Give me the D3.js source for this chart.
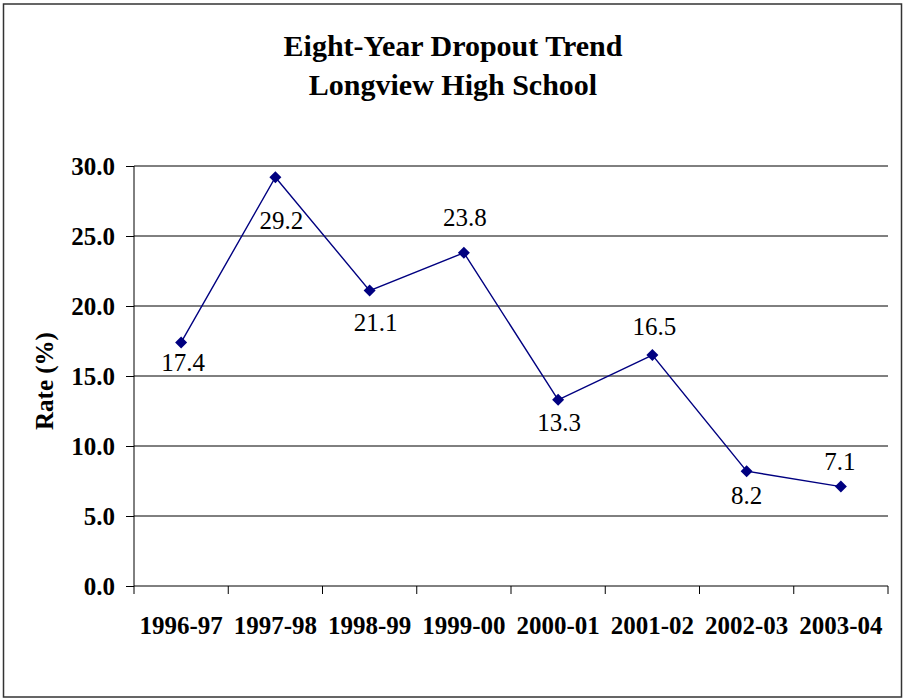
<!DOCTYPE html>
<html>
<head>
<meta charset="utf-8">
<script src="https://cdn.jsdelivr.net/npm/d3@7"></script>
<style>
  body { margin: 0; background: #fff; }
</style>
</head>
<body>
<div id="chart-area"></div>
<script>
// SVG Size
var width = 904,
    height = 700;

// chart data
var years = ["1996-97", "1997-98", "1998-99", "1999-00", "2000-01", "2001-02", "2002-03", "2003-04"];
var rates = [17.4, 29.2, 21.1, 23.8, 13.3, 16.5, 8.2, 7.1];
var yTicks = [0, 5, 10, 15, 20, 25, 30];
var titleLines = ["Eight-Year Dropout Trend", "Longview High School"];

// where each data label sits relative to its marker (px), hand placed like the original
var labelDx = [2, 6, 6, 1, 1, 2, 0, -1];
var labelDy = [29, 52, 40, -27, 31, -20, 33, -17];

var serif = "'Liberation Serif', 'Times New Roman', serif";
var plot = { left: 134, right: 888, top: 166, bottom: 586 };

var svg = d3.select("#chart-area")
  .append("svg")
  .attr("width", width)
  .attr("height", height)
  .style("font-family", serif);

// outer border
svg.append("rect")
  .attr("x", 3.5)
  .attr("y", 4)
  .attr("width", 898)
  .attr("height", 693)
  .attr("fill", "#fff")
  .attr("stroke", "#333")
  .attr("stroke-width", 1.5);

let xScale = d3.scaleBand()
  .domain(years)
  .range([plot.left, plot.right]);

let yScale = d3.scaleLinear()
  .domain([0, 30])
  .range([plot.bottom, plot.top]);

function cx(i) { return xScale(years[i]) + xScale.bandwidth() / 2; }

// gridlines
svg.append("g")
  .selectAll("line")
  .data(yTicks.filter(function(d) { return d > 0; }))
  .enter()
  .append("line")
  .attr("x1", plot.left)
  .attr("x2", plot.right)
  .attr("y1", function(d) { return yScale(d); })
  .attr("y2", function(d) { return yScale(d); })
  .attr("stroke", "#000")
  .attr("stroke-width", 1);

// y axis
let yAxis = d3.axisLeft(yScale)
  .tickValues(yTicks)
  .tickSize(8)
  .tickPadding(11)
  .tickFormat(d3.format(".1f"));

var gy = svg.append("g")
  .attr("class", "axis y-axis")
  .attr("transform", "translate(" + plot.left + ",0)")
  .call(yAxis);
gy.select(".domain").attr("stroke", "#000").attr("d", "M0," + plot.top + "V" + plot.bottom);
gy.selectAll("text")
  .style("font-family", serif)
  .attr("font-size", 25)
  .attr("font-weight", "bold")
  .attr("fill", "#000")
  .attr("dy", "0.34em");

// x axis, ticks sit at category boundaries
let xBoundary = d3.scaleLinear()
  .domain([0, years.length])
  .range([plot.left, plot.right]);

var gx = svg.append("g")
  .attr("class", "axis x-axis");
gx.append("line")
  .attr("x1", plot.left).attr("x2", plot.right)
  .attr("y1", plot.bottom).attr("y2", plot.bottom)
  .attr("stroke", "#000");
gx.selectAll(".tick")
  .data(d3.range(years.length + 1))
  .enter()
  .append("line")
  .attr("x1", function(d) { return xBoundary(d); })
  .attr("x2", function(d) { return xBoundary(d); })
  .attr("y1", plot.bottom)
  .attr("y2", plot.bottom + 8)
  .attr("stroke", "#000");
gx.selectAll("text")
  .data(years)
  .enter()
  .append("text")
  .attr("x", function(d) { return xScale(d) + xScale.bandwidth() / 2; })
  .attr("y", plot.bottom + 48)
  .attr("text-anchor", "middle")
  .attr("font-size", 25)
  .attr("font-weight", "bold")
  .text(function(d) { return d; });

// line
var line = d3.line()
  .x(function(d, i) { return cx(i); })
  .y(function(d) { return yScale(d); });

svg.append("path")
  .datum(rates)
  .attr("d", line)
  .attr("fill", "none")
  .attr("stroke", "#000080")
  .attr("stroke-width", 1.4);

// diamond markers
var diamond = d3.symbol().type(d3.symbolDiamond2).size(92);
svg.selectAll(".marker")
  .data(rates)
  .enter()
  .append("path")
  .attr("class", "marker")
  .attr("d", diamond)
  .attr("transform", function(d, i) {
    return "translate(" + cx(i) + "," + yScale(d) + ")";
  })
  .attr("fill", "#000080");

// data labels
svg.selectAll(".label")
  .data(rates)
  .enter()
  .append("text")
  .attr("class", "label")
  .attr("x", function(d, i) { return cx(i) + labelDx[i]; })
  .attr("y", function(d, i) { return yScale(d) + labelDy[i]; })
  .attr("text-anchor", "middle")
  .attr("font-size", 25)
  .attr("fill", "#000")
  .text(function(d) { return d.toFixed(1); });

// title
svg.append("text")
  .attr("text-anchor", "middle")
  .attr("font-size", 30)
  .attr("font-weight", "bold")
  .selectAll("tspan")
  .data(titleLines)
  .enter()
  .append("tspan")
  .attr("x", 453)
  .attr("y", function(d, i) { return 56 + i * 39; })
  .text(function(d) { return d; });

// y label
svg.append("text")
  .attr("transform", "translate(53,381) rotate(-90)")
  .attr("text-anchor", "middle")
  .attr("font-size", 25)
  .attr("font-weight", "bold")
  .text("Rate (%)");
</script>
</body>
</html>
